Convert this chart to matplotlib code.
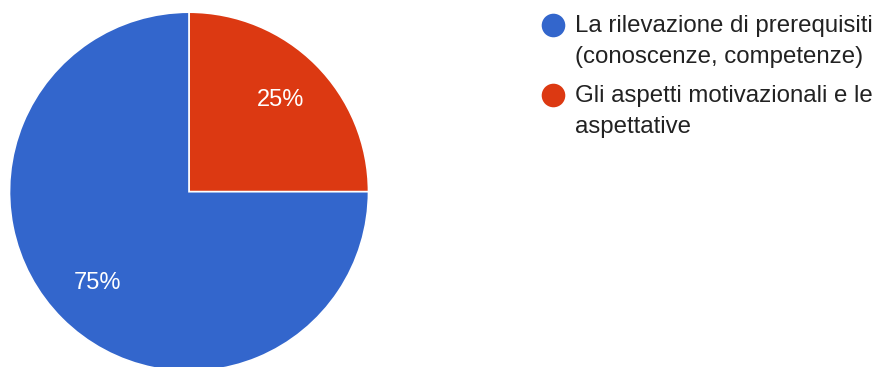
import matplotlib
matplotlib.use("Agg")
import matplotlib.pyplot as plt
from matplotlib.lines import Line2D

plt.rcParams["font.family"] = ["Liberation Sans", "DejaVu Sans"]

# Risposte alla domanda (quota sul totale)
categories = [
    "Gli aspetti motivazionali e le\naspettative",
    "La rilevazione di prerequisiti\n(conoscenze, competenze)",
]
shares = [25, 75]
colors = ["#DC3912", "#3366CC"]

# legend order as shown on the right
legend_order = [1, 0]

W, H = 878, 367
fig = plt.figure(figsize=(W / 100, H / 100), dpi=100)

# pie axes: centre (189, 192) px, radius ~180 px
cx, cy, r = 189, 191.7, 179.5
ax = fig.add_axes([(cx - r) / W, (H - cy - r) / H, 2 * r / W, 2 * r / H])
wedges, texts, autotexts = ax.pie(
    shares,
    colors=colors,
    startangle=90,
    counterclock=False,
    autopct=lambda p: f"{p:.0f}%",
    pctdistance=0.72,
    wedgeprops=dict(edgecolor="white", linewidth=1.2),
    textprops=dict(color="white", fontsize=17),
)
ax.set_xlim(-1, 1)
ax.set_ylim(-1, 1)
ax.set_aspect("equal")
ax.axis("off")

# legend drawn by hand: coloured dot + two-line label
entry_y = [25, 95]
for row, idx in enumerate(legend_order):
    y = entry_y[row]
    fig.add_artist(Line2D([553 / W], [1 - y / H], transform=fig.transFigure,
                          marker="o", markersize=17, linestyle="none",
                          markerfacecolor=colors[idx], markeredgewidth=0))
    lines = categories[idx].split("\n")
    for k, line in enumerate(lines):
        fig.text(575 / W, 1 - (y + 7 + 31 * k) / H, line,
                 fontsize=17.3, color="#222222", ha="left", va="baseline")

fig.savefig("out.png", dpi=100)
